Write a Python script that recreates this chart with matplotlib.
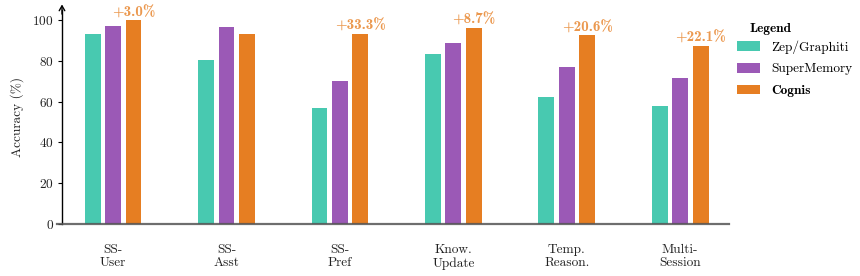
import matplotlib
matplotlib.use("Agg")
import matplotlib.pyplot as plt
import numpy as np
from matplotlib.patches import Patch

plt.rcParams['font.family'] = ['cmr10', 'DejaVu Serif']
plt.rcParams['axes.formatter.use_mathtext'] = True
plt.rcParams['mathtext.fontset'] = 'cm'

categories = ["SS-\nUser", "SS-\nAsst", "SS-\nPref", "Know.\nUpdate", "Temp.\nReason.", "Multi-\nSession"]
zep = [93.1, 80.4, 56.9, 83.3, 62.3, 57.8]
supermemory = [97.1, 96.6, 70.0, 88.5, 76.8, 71.5]
cognis = [100.0, 93.1, 93.3, 96.2, 92.6, 87.3]
gains = ["+3.0%", None, "+33.3%", "+8.7%", "+20.6%", "+22.1%"]
series_names = ["Zep/Graphiti", "SuperMemory", "Cognis"]
colors = ["#48C9B0", "#9B59B6", "#E67E22"]

FS = 9.6
fig = plt.figure(figsize=(8.6, 2.76), dpi=100)
ax = fig.add_axes([62/860, 52/276, (729-62)/860, (224-9.8)/276])

x = np.arange(len(categories))
w = 0.14
step = 0.18
for i, (vals, c) in enumerate(zip([zep, supermemory, cognis], colors)):
    ax.bar(x + (i - 1) * step, vals, width=w, color=c, zorder=2)

for xi, v, g in zip(x, cognis, gains):
    if g:
        ax.text(xi + step, v + 0.4, g, ha='center', va='bottom', color=colors[2],
                alpha=0.8, fontsize=10.8, family=['cmb10', 'DejaVu Serif'])

ax.set_xlim(-0.45, 5.43)
ax.set_ylim(0, 105)
ax.set_yticks([0, 20, 40, 60, 80, 100])
ax.set_xticks(x)
ax.set_xticklabels(categories, fontsize=FS, color='#222222', linespacing=1.15)
ax.tick_params(axis='x', length=0, pad=14)
ax.tick_params(axis='y', length=3, width=0.8, labelsize=FS, labelcolor='#222222', pad=3)
for s in ['top', 'right', 'bottom']:
    ax.spines[s].set_visible(False)
ax.spines['left'].set_linewidth(1.0)
ax.set_ylabel("Accuracy (%)", fontsize=FS, color='#222222', labelpad=6)

# x baseline
ax.plot([-0.008, 1.0], [0, 0], transform=ax.transAxes,
        color='#555555', lw=1.6, alpha=0.85, zorder=3, clip_on=False)
# y-axis arrow
ax.annotate('', xy=(0, 1.025), xytext=(0, 0.98), xycoords='axes fraction',
            arrowprops=dict(arrowstyle='->,head_length=0.35,head_width=0.2', lw=1.0,
                            color='black', shrinkA=0, shrinkB=0),
            annotation_clip=False)

handles = [Patch(facecolor=c, edgecolor='none') for c in colors]
leg = fig.legend(handles, series_names, loc='upper left', bbox_to_anchor=(737/860, 1 - 40/276),
                 frameon=False, fontsize=FS, handlelength=1.75, handleheight=0.75,
                 handletextpad=0.8, labelspacing=0.7, borderpad=0, borderaxespad=0)
texts = leg.get_texts()
texts[2].set_family(['cmb10', 'DejaVu Serif'])
fig.text(749/860, 1 - 29/276, "Legend", fontsize=FS, family=['cmb10', 'DejaVu Serif'],
         ha='left', va='center')

fig.savefig("out.png", dpi=100)
